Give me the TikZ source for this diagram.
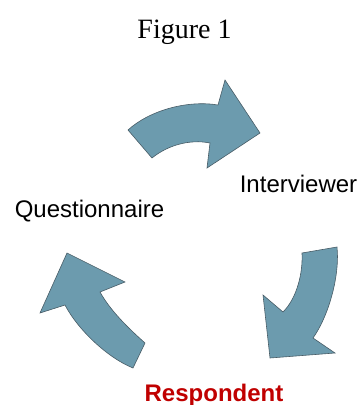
\documentclass[tikz,border=0pt]{standalone}
\usepackage{fontspec}
\setmainfont{Liberation Serif}
\newfontfamily\arialfont{Liberation Sans}
\definecolor{arrowblue}{RGB}{108,155,174}
\definecolor{arrowedge}{RGB}{72,92,102}
\definecolor{respred}{RGB}{192,0,0}
\tikzset{
  bentarrow/.style={fill=arrowblue, draw=arrowedge, line width=.6pt, line join=miter},
  label/.style={font=\arialfont\fontsize{24}{28}\selectfont, anchor=base, inner sep=0pt}
}
\begin{document}
\begin{tikzpicture}[x=1pt, y=-1pt]
\useasboundingbox (0,0) rectangle (364,405);
\node (fig) at (184.5,38) [anchor=base, inner sep=0pt, font=\fontsize{28}{32}\selectfont]{Figure 1};
\node (int) at (298.5,192) [label]{Interviewer};
\node (que) at (89.5,217) [label]{Questionnaire};
\node (res) at (214,401) [label, text=respred, font=\arialfont\bfseries\fontsize{24}{28}\selectfont]{Respondent};
% top arrow
\draw [bentarrow] (128,130) .. controls (150,110) and (188,100) .. (218,105)
    --(225,80)--(260,133)--(207,168)--(210,143)
    .. controls (190,139) and (168,145) .. (152,158)--cycle;
% right arrow
\draw [bentarrow] (337,247) .. controls (340,277) and (328,317) .. (313,338)
    --(335,353)--(270,358)--(263,295)--(283,312)
    .. controls (297,298) and (303,273) .. (302,253)--cycle;
% left arrow
\draw [bentarrow] (133,368) .. controls (108,358) and (78,330) .. (65,305)
    --(40,313)--(67,253)--(125,282)--(100,292)
    .. controls (110,310) and (127,327) .. (145,343)--cycle;
\end{tikzpicture}
\end{document}
